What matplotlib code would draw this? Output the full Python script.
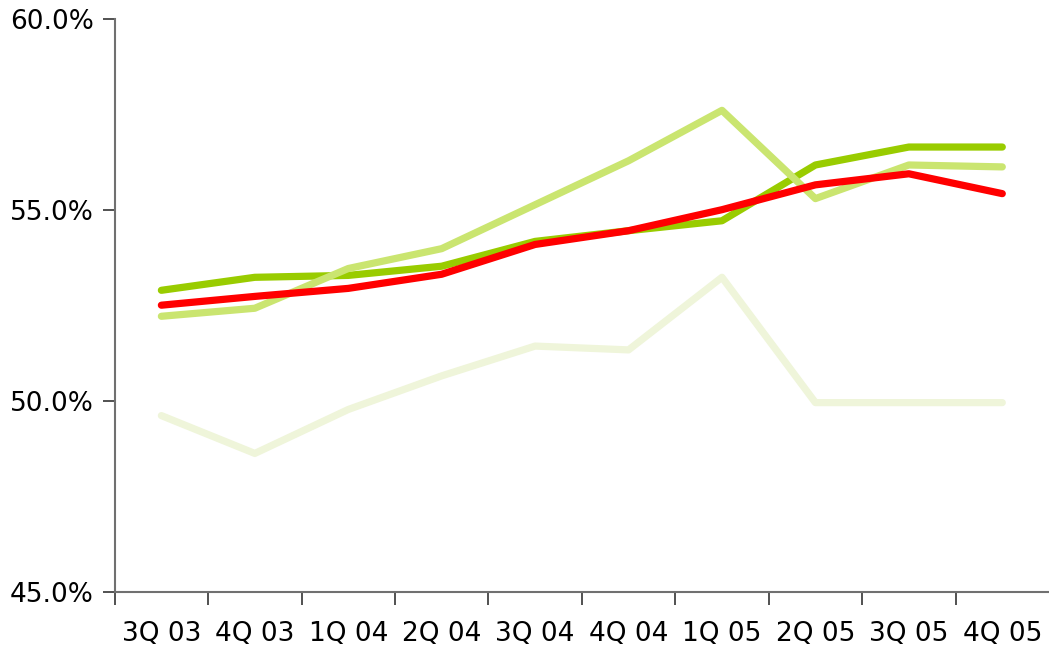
import matplotlib
matplotlib.use("Agg")
import matplotlib.pyplot as plt
from matplotlib.ticker import FuncFormatter

plt.rcParams["font.family"] = ["DejaVu Sans"]

quarters = ["3Q 03", "4Q 03", "1Q 04", "2Q 04", "3Q 04", "4Q 04", "1Q 05", "2Q 05", "3Q 05", "4Q 05"]

series_pale = [49.61, 48.62, 49.77, 50.65, 51.43, 51.33, 53.23, 49.95, 49.95, 49.95]
series_dark_green = [52.89, 53.23, 53.28, 53.52, 54.17, 54.45, 54.71, 56.17, 56.64, 56.64]
series_light_green = [52.21, 52.42, 53.46, 53.98, 55.13, 56.28, 57.60, 55.29, 56.17, 56.12]
series_red = [52.50, 52.73, 52.94, 53.31, 54.09, 54.45, 55.00, 55.65, 55.94, 55.42]

y_ticks = [45.0, 50.0, 55.0, 60.0]

fig = plt.figure(figsize=(10.49, 6.55), dpi=100)
ax = fig.add_axes([0.1093, 0.0966, 0.8907, 0.8749])

x = list(range(len(quarters)))
lw = 5.2
ax.plot(x, series_pale, color="#EFF5DA", lw=lw, solid_capstyle="round", solid_joinstyle="round")
ax.plot(x, series_dark_green, color="#99CC00", lw=lw, solid_capstyle="round", solid_joinstyle="round")
ax.plot(x, series_light_green, color="#CAE570", lw=lw, solid_capstyle="round", solid_joinstyle="round")
ax.plot(x, series_red, color="#FF0000", lw=lw, solid_capstyle="round", solid_joinstyle="round")

ax.set_xlim(-0.5, len(quarters) - 0.5)
ax.set_ylim(45, 60)
ax.set_yticks(y_ticks)
ax.yaxis.set_major_formatter(FuncFormatter(lambda v, p: f"{v:.1f}%"))
ax.set_xticks([i - 0.5 for i in range(len(quarters))])
ax.set_xticklabels([])
ax.set_xticks(x, minor=True)
ax.set_xticklabels(quarters, minor=True)
ax.tick_params(axis="x", which="minor", length=0, pad=21, labelsize=19)
ax.tick_params(axis="x", which="major", length=9, width=1.2, color="#333333", direction="out")
ax.tick_params(axis="y", length=9, width=1.2, color="#333333", direction="out", labelsize=19, pad=6)

for s in ["top", "right"]:
    ax.spines[s].set_visible(False)
for s in ["left", "bottom"]:
    ax.spines[s].set_color("#707070")
    ax.spines[s].set_linewidth(1.5)

fig.savefig("out.png", dpi=100)
